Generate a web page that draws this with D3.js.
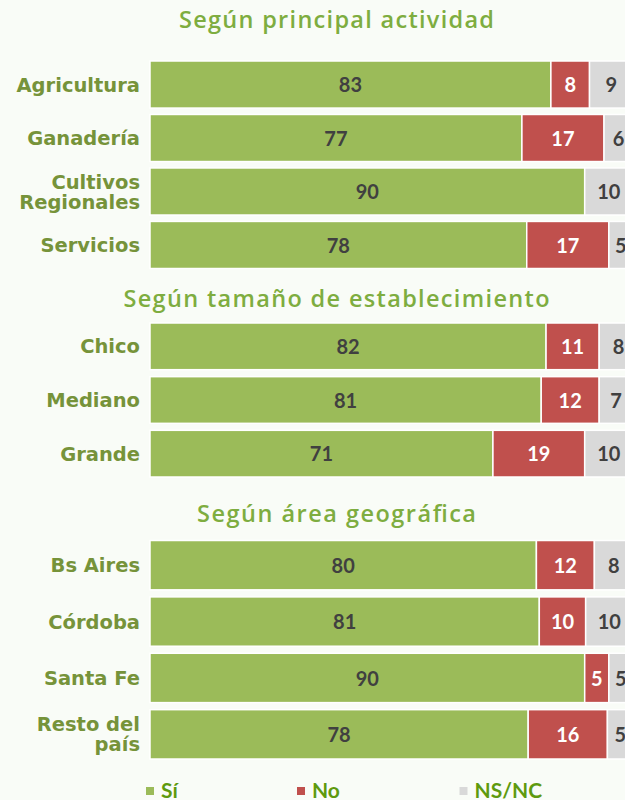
<!DOCTYPE html>
<html><head><meta charset="utf-8">
<script src="https://cdn.jsdelivr.net/npm/d3@7"></script>
<style>html,body{margin:0;padding:0;background:#F9FCF7;overflow:hidden} svg{display:block}</style>
</head><body><svg id="c" width="625" height="800"></svg>
<script>
// ---- data ----
const sectionTitles = ["Según principal actividad", "Según tamaño de establecimiento", "Según área geográfica"];
const categoriesActividad = ["Agricultura", "Ganadería", "Cultivos\nRegionales", "Servicios"];
const siActividad = [83, 77, 90, 78];
const noActividad = [8, 17, 0, 17];
const nsActividad = [9, 6, 10, 5];
const categoriesTamano = ["Chico", "Mediano", "Grande"];
const siTamano = [82, 81, 71];
const noTamano = [11, 12, 19];
const nsTamano = [8, 7, 10];
const categoriesArea = ["Bs Aires", "Córdoba", "Santa Fe", "Resto del\npaís"];
const siArea = [80, 80.6, 90, 78.3];
const noArea = [12, 9.6, 5, 16.4];
const nsArea = [8, 9.8, 5, 5.3];
const seriesNames = ["Sí", "No", "NS/NC"];

// ---- layout / style ----
const colors = ["#9BBB59", "#C0504D", "#D9D9D9"];
const labelColors = ["#404040", "#FFFFFF", "#404040"];
const sectionLayout = [
  {titleY: 28, titleW: 315, y0: 61, y1: 268.5, pad: 0.12},
  {titleY: 306.5, titleW: 426, y0: 323, y1: 477, pad: 0.13},
  {titleY: 521.5, titleW: 279, y0: 540.5, y1: 759, pad: 0.125}
];
const legendX = [146, 297, 459.5];

const sections = [
  {title: sectionTitles[0], cats: categoriesActividad, vals: [siActividad, noActividad, nsActividad]},
  {title: sectionTitles[1], cats: categoriesTamano, vals: [siTamano, noTamano, nsTamano]},
  {title: sectionTitles[2], cats: categoriesArea, vals: [siArea, noArea, nsArea]}
];

const svg = d3.select("#c");
const x = d3.scaleLinear().domain([0, 100]).range([150, 633]);
const stack = d3.stack().keys([0, 1, 2]);

sections.forEach((sec, si) => {
  const L = sectionLayout[si];
  const g = svg.append("g");
  g.append("text")
    .attr("x", 336.5).attr("y", L.titleY)
    .attr("text-anchor", "middle")
    .attr("textLength", L.titleW).attr("lengthAdjust", "spacing")
    .style("font-family", "'Open Sans', sans-serif")
    .style("font-weight", 600)
    .style("font-size", "23.5px")
    .style("fill", "#7EAD40")
    .text(sec.title);

  const y = d3.scaleBand().domain(sec.cats).range([L.y0, L.y1]).paddingInner(L.pad).paddingOuter(0);
  const rows = sec.cats.map((c, i) => ({cat: c, 0: sec.vals[0][i], 1: sec.vals[1][i], 2: sec.vals[2][i]}));
  const stacked = stack(rows);

  stacked.forEach((layer, k) => {
    const lg = g.append("g");
    lg.selectAll("rect").data(layer.filter(d => d[1] - d[0] > 0)).join("rect")
      .attr("x", d => x(d[0]))
      .attr("y", d => y(d.data.cat))
      .attr("width", d => x(d[1]) - x(d[0]))
      .attr("height", y.bandwidth())
      .attr("fill", colors[k])
      .attr("stroke", "#FFFFFF").attr("stroke-width", 1.5);
    lg.selectAll("text").data(layer.filter(d => d[1] - d[0] > 0)).join("text")
      .attr("x", d => (x(d[0]) + x(d[1])) / 2)
      .attr("y", d => y(d.data.cat) + y.bandwidth() / 2)
      .attr("dy", "0.38em")
      .attr("text-anchor", "middle")
      .style("font-family", "Lato, sans-serif")
      .style("font-weight", 700)
      .style("font-size", "20px")
      .style("fill", labelColors[k])
      .text(d => Math.round(d[1] - d[0]));
  });

  // category labels
  const lab = g.append("g");
  sec.cats.forEach(c => {
    const lines = c.split("\n");
    const cy = y(c) + y.bandwidth() / 2;
    const t = lab.append("text")
      .attr("x", 140)
      .attr("text-anchor", "end")
      .style("font-family", "'DejaVu Sans', sans-serif")
      .style("font-weight", 700)
      .style("font-size", "19.5px")
      .style("fill", "#76933A");
    lines.forEach((ln, i) => {
      t.append("tspan").attr("x", 140)
        .attr("y", cy + (i - (lines.length - 1) / 2) * 20)
        .attr("dy", "0.36em")
        .text(ln);
    });
  });
});

// legend
const leg = svg.append("g");
seriesNames.forEach((n, i) => {
  leg.append("rect").attr("x", legendX[i]).attr("y", 787).attr("width", 8).attr("height", 8).attr("fill", colors[i]);
  leg.append("text").attr("x", legendX[i] + 15).attr("y", 797.5)
    .style("font-family", "Lato, sans-serif").style("font-weight", 700).style("font-size", "21px")
    .style("fill", "#5E9A0E").text(n);
});
</script>
</body></html>
